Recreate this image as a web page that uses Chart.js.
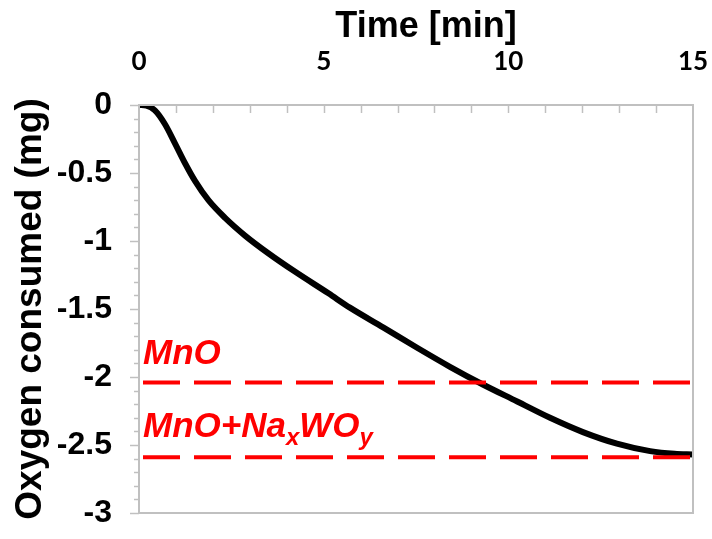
<!DOCTYPE html>
<html>
<head>
<meta charset="utf-8">
<script src="https://cdn.jsdelivr.net/npm/chart.js@4"></script>
<style>
  html, body { margin: 0; padding: 0; background: #fff; overflow: hidden; }
  #wrap { width: 712px; height: 539px; }
</style>
</head>
<body>
<div id="wrap"><canvas id="myChart"></canvas></div>
<script>
// values
const timeMin = [0, 0.2, 0.43, 0.7, 0.97, 1.25, 1.52, 1.88, 2.33, 2.87, 3.5, 4.22, 5.13, 5.71, 6.61, 7.53, 8.42, 9.31, 10.24, 11.13, 12.02, 12.94, 13.84, 14.5, 15];
const oxygenMg = [0, -0.005, -0.04, -0.14, -0.28, -0.43, -0.56, -0.7, -0.83, -0.96, -1.09, -1.225, -1.385, -1.49, -1.635, -1.785, -1.925, -2.055, -2.18, -2.3, -2.405, -2.49, -2.545, -2.565, -2.57];
const mnoLevel = -2.04;
const mnoNaxwoyLevel = -2.59;
const xRange = [0, 15];
const yRange = [-3, 0];

const gray = '#c0c0c0';
const red = '#ff0000';
const ctx = document.getElementById('myChart');

// frame, minor ticks and the red text labels
const extras = {
  id: 'extras',
  afterDatasetsDraw(chart) {
    const c = chart.ctx, a = chart.chartArea;
    const xs = chart.scales.x, ys = chart.scales.y;
    c.save();
    c.strokeStyle = gray;
    c.lineWidth = 1.5;
    // top ticks pointing into the plot, every minute
    for (let t = xRange[0] + 1; t < xRange[1]; t++) {
      const px = Math.round(xs.getPixelForValue(t)) + 0.5;
      c.beginPath(); c.moveTo(px, a.top); c.lineTo(px, a.top + 8); c.stroke();
    }
    // left ticks, every 0.1, longer every 0.5
    for (let i = 0; i <= 30; i++) {
      const py = Math.round(ys.getPixelForValue(-i / 10)) + 0.5;
      const len = i % 5 === 0 ? 9 : 5;
      c.beginPath(); c.moveTo(a.left - len, py); c.lineTo(a.left, py); c.stroke();
    }
    c.lineWidth = 2;
    c.strokeRect(a.left, a.top, a.right - a.left, a.bottom - a.top);

    // labels above the dashed lines
    c.fillStyle = red;
    c.textBaseline = 'alphabetic';
    c.textAlign = 'left';
    const x0 = xs.getPixelForValue(0) + 4;
    c.font = 'italic bold 35px "Liberation Sans", Arial, sans-serif';
    c.fillText('MnO', x0, ys.getPixelForValue(mnoLevel) - 18);
    let y2 = ys.getPixelForValue(mnoNaxwoyLevel) - 20;
    let x = x0;
    const parts = [['MnO+Na', 0, 35], ['x', 8, 24], ['WO', 0, 35], ['y', 8, 24]];
    parts.forEach(p => {
      c.font = 'italic bold ' + p[2] + 'px "Liberation Sans", Arial, sans-serif';
      c.fillText(p[0], x, y2 + p[1]);
      x += c.measureText(p[0]).width;
    });
    c.restore();
  }
};

new Chart(ctx, {
  type: 'line',
  data: {
    datasets: [
      {
        label: 'MnO',
        data: xRange.map(t => ({ x: t, y: mnoLevel })),
        borderColor: red,
        borderWidth: 4,
        borderDash: [37, 14],
        borderDashOffset: -4,
        pointRadius: 0
      },
      {
        label: 'MnO+NaxWOy',
        data: xRange.map(t => ({ x: t, y: mnoNaxwoyLevel })),
        borderColor: red,
        borderWidth: 4,
        borderDash: [37, 14],
        borderDashOffset: -4,
        pointRadius: 0
      },
      {
        label: 'Oxygen consumed',
        data: timeMin.map((t, i) => ({ x: t, y: oxygenMg[i] })),
        borderColor: '#000',
        borderWidth: 6,
        pointRadius: 0,
        cubicInterpolationMode: 'monotone'
      }
    ]
  },
  options: {
    responsive: true,
    maintainAspectRatio: false,
    animation: false,
    layout: { padding: { right: 19, bottom: 26, left: 0, top: 0 } },
    plugins: { legend: { display: false }, tooltip: { enabled: false } },
    scales: {
      x: {
        type: 'linear',
        position: 'top',
        min: xRange[0],
        max: xRange[1],
        afterFit: s => { s.height = 105; s.paddingLeft = 0; s.paddingRight = 0; },
        grid: { display: false, drawTicks: false },
        border: { display: false },
        ticks: {
          stepSize: 5,
          padding: 28,
          color: '#000',
          font: { family: 'Lato, "Liberation Sans", sans-serif', weight: 'bold', size: 26 }
        },
        title: {
          display: true,
          text: '  Time [min]',
          color: '#000',
          padding: { top: 5, bottom: 0 },
          font: { family: '"Liberation Sans", Arial, sans-serif', weight: 'bold', size: 36 }
        }
      },
      y: {
        type: 'linear',
        min: yRange[0],
        max: yRange[1],
        afterFit: s => { s.width = 139; s.paddingTop = 0; s.paddingBottom = 0; },
        grid: { display: false, drawTicks: false },
        border: { display: false },
        ticks: {
          stepSize: 0.5,
          padding: 27,
          color: '#000',
          callback: v => String(Math.round(v * 10) / 10),
          font: { family: '"Liberation Sans", Arial, sans-serif', weight: 'bold', size: 32 }
        },
        title: {
          display: true,
          text: 'Oxygen consumed (mg)',
          color: '#000',
          padding: { top: 9, bottom: 0 },
          font: { family: '"Liberation Sans", Arial, sans-serif', weight: 'bold', size: 37 }
        }
      }
    }
  },
  plugins: [extras]
});
</script>
</body>
</html>
